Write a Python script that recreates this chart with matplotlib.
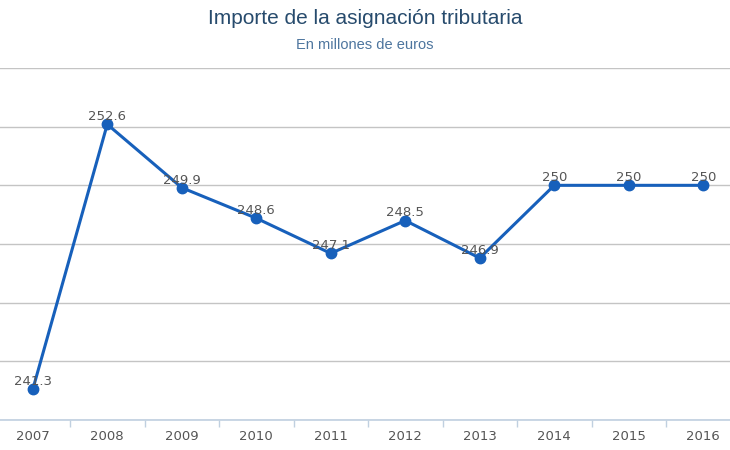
import matplotlib
matplotlib.use('Agg')
import matplotlib.pyplot as plt
import numpy as np

years  = ['2007', '2008', '2009', '2010', '2011', '2012', '2013', '2014', '2015', '2016']
values = [241.3, 252.6, 249.9, 248.6, 247.1, 248.5, 246.9, 250, 250, 250]
labels = ['241.3', '252.6', '249.9', '248.6', '247.1', '248.5', '246.9', '250', '250', '250']

lineColor = '#1760bb'
gridColor = '#c4c4c4'
textColor = '#555555'

fig = plt.figure(figsize=(7.3, 4.5), dpi=100)
# plot area is cropped on the left and right in the original
ax = fig.add_axes([-4.5/730, 1 - 420/450, 745/730, 352/450])

x = np.arange(len(years))
ax.plot(x, values, color=lineColor, linewidth=2.2, marker='o', markersize=7.5, zorder=3)

for xi, v, lab in zip(x, values, labels):
	ax.annotate(lab, (xi, v), xytext=(0, 3), textcoords='offset points',
		ha='center', va='baseline', fontsize=9.5, color=textColor, family='DejaVu Sans', zorder=4)

ax.set_xlim(-0.5, len(years) - 0.5)
ax.set_ylim(240, 255)
ax.set_yticks([240, 242.5, 245, 247.5, 250, 252.5, 255])
ax.yaxis.grid(True, color=gridColor, linewidth=1)
ax.set_axisbelow(True)
ax.tick_params(axis='y', left=False, labelleft=False)

ax.set_xticks(x)
ax.set_xticklabels(years, fontsize=9.5, color=textColor, family='DejaVu Sans')
ax.set_xticks(x[:-1] + 0.5, minor=True)
ax.tick_params(axis='x', which='major', length=0, pad=7)
ax.tick_params(axis='x', which='minor', length=5, color='#c0d0e0', width=1)

for side in ['top', 'left', 'right']:
	ax.spines[side].set_visible(False)
ax.spines['bottom'].set_color('#c0d0e0')
ax.spines['bottom'].set_linewidth(1.2)

fig.text(0.5, 1 - 19/450, 'Importe de la asignación tributaria', ha='center', va='center',
	fontsize=15, color='#274b6d', family='Liberation Sans')
fig.text(0.5, 1 - 45/450, 'En millones de euros', ha='center', va='center',
	fontsize=10.5, color='#4d759e', family='Liberation Sans')

plt.savefig('out.png', dpi=100)
